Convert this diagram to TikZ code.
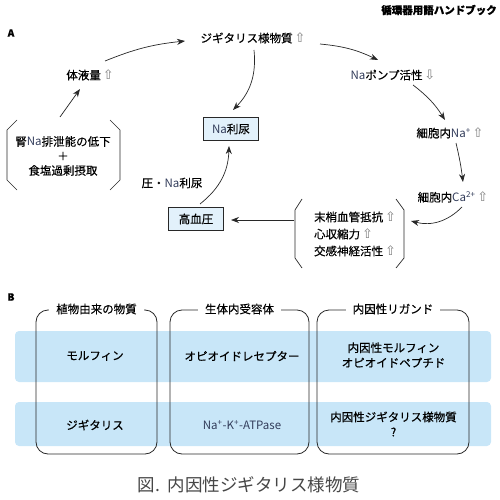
\documentclass[tikz,border=0pt]{standalone}
\usepackage{fontspec}
\setmainfont{Noto Sans CJK JP}[FakeBold=0.4]
\newfontfamily\capf{Noto Sans CJK JP}
\newfontfamily\symf{DejaVu Sans}
\usetikzlibrary{arrows.meta}
\definecolor{boxfill}{RGB}{226,241,251}
\definecolor{band}{RGB}{200,230,248}
\definecolor{ln}{RGB}{40,40,40}
\definecolor{lat}{RGB}{50,60,90}
\definecolor{capc}{RGB}{70,70,70}
\newcommand{\upa}{{\,\symf\fontsize{13}{14}\selectfont\color{gray}⇧}}
\newcommand{\dna}{{\,\symf\fontsize{13}{14}\selectfont\color{gray}⇩}}
\newcommand{\lt}[1]{{\capf\color{lat}#1}}
\begin{document}
\begin{tikzpicture}[x=1pt,y=-1pt,
  txt/.style={font=\fontsize{11.5}{14}\selectfont, inner sep=1pt},
  bx/.style={txt, draw=ln, fill=boxfill, minimum width=55, minimum height=23, line width=0.8},
  arr/.style={-{Stealth[length=8,width=6]}, draw=ln, line width=0.7},
  brk/.style={draw=ln, line width=0.7},
  colbox/.style={draw=ln, line width=0.8, rounded corners=12},
  bandst/.style={fill=band, rounded corners=4},
  ttl/.style={txt, fill=white, inner xsep=7pt},
  cell/.style={txt, align=center, font=\fontsize{11.5}{15}\selectfont}]
\useasboundingbox (0,0) rectangle (500,500);
% header
\node[anchor=east, font=\fontsize{10.5}{12}\selectfont\bfseries, inner sep=0] (hdr) at (497,10) {循環器用語ハンドブック};
\node[font=\fontsize{10}{12}\selectfont\bfseries, inner sep=0] (la) at (11,33) {A};
\node[font=\fontsize{10}{12}\selectfont\bfseries, inner sep=0] (lbB) at (11,297) {B};
% panel A nodes
\node[txt] (dig) at (253,38) {ジギタリス様物質\upa};
\node[txt] (vol) at (90,75) {体液量\upa};
\node[txt] (pump) at (393,75) {\lt{Na}ポンプ活性\dna};
\node[bx] (natri) at (231,129) {\lt{Na}利尿};
\node[txt] (cna) at (450,133) {細胞内\lt{Na\textsuperscript{+}}\upa};
\node[txt, align=center, font=\fontsize{11.5}{14.5}\selectfont] (left) at (63,156) {腎\lt{Na}排泄能の低下\\＋\\食塩過剰摂取};
\node[txt] (cca) at (453,197) {細胞内\lt{Ca\textsuperscript{2+}}\upa};
\node[txt] (pn) at (172,183) {圧・\lt{Na}利尿};
\node[bx] (htn) at (196,219) {高血圧};
\node[txt, align=left, font=\fontsize{11.5}{17}\selectfont] (right) at (355,234) {末梢血管抵抗\upa\\心収縮力\upa\\交感神経活性\upa};
% brackets
\draw[brk] (17,120) -- (7,130) -- (7,180) -- (17,190);
\draw[brk] (110,120) -- (120,130) -- (120,180) -- (110,190);
\draw[brk] (302,199) -- (295,210) -- (295,258) -- (302,268);
\draw[brk] (396,199) -- (404,210) -- (404,258) -- (396,268);
% arrows
\draw[arr] ([shift={(15,-14)}]vol.center) to[bend left=8] ([shift={(-68,3)}]dig.center);
\draw[arr] ([shift={(67,6)}]dig.center) to[bend left=10] ([shift={(-15,-15)}]pump.center);
\draw[arr] ([shift={(20,10)}]pump.center) to[bend left=10] ([shift={(-5,-13)}]cna.center);
\draw[arr] ([shift={(6,10)}]cna.center) to[bend left=3] ([shift={(10,-15)}]cca.center);
\draw[arr] ([shift={(9,10)}]cca.center) to[bend left=30] ([shift={(56,-13)}]right.center);
\draw[arr] ([shift={(-61,-14)}]right.center) -- ([shift={(35,1)}]htn.center);
\draw[arr] ([shift={(4,-15)}]htn.center) to[bend right=25] ([shift={(-2,17)}]natri.center);
\draw[arr] ([shift={(1,12)}]dig.center) to[bend left=25] ([shift={(2,-19)}]natri.center);
\draw[arr] ([shift={(-3,-39)}]left.center) -- ([shift={(-10,14)}]vol.center);
% panel B
\fill[bandst] (15,331) rectangle (491,382);
\fill[bandst] (15,402) rectangle (491,446);
\draw[colbox] (36,310) rectangle (157,454);
\draw[colbox] (170,310) rectangle (309,454);
\draw[colbox] (317,310) rectangle (469,454);
\node[ttl] (t1) at (96.5,309) {植物由来の物質};
\node[ttl] (t2) at (239.5,309) {生体内受容体};
\node[ttl] (t3) at (393,309) {内因性リガンド};
\node[cell] (c11) at (95,356) {モルフィン};
\node[cell] (c12) at (242,356) {オピオイドレセプター};
\node[cell] (c13) at (393.5,355) {内因性モルフィン\\オピオイドペプチド};
\node[cell] (c21) at (95,425) {ジギタリス};
\node[cell] (c22) at (242,425) {\lt{Na\textsuperscript{+}-K\textsuperscript{+}-ATPase}};
\node[cell] (c23) at (393.5,424) {内因性ジギタリス様物質\\?};
% caption
\node[font=\fontsize{17.5}{20}\selectfont\capf, text=capc, inner sep=0] (cap) at (249,485) {図.\ \ 内因性ジギタリス様物質};
\end{tikzpicture}
\end{document}
